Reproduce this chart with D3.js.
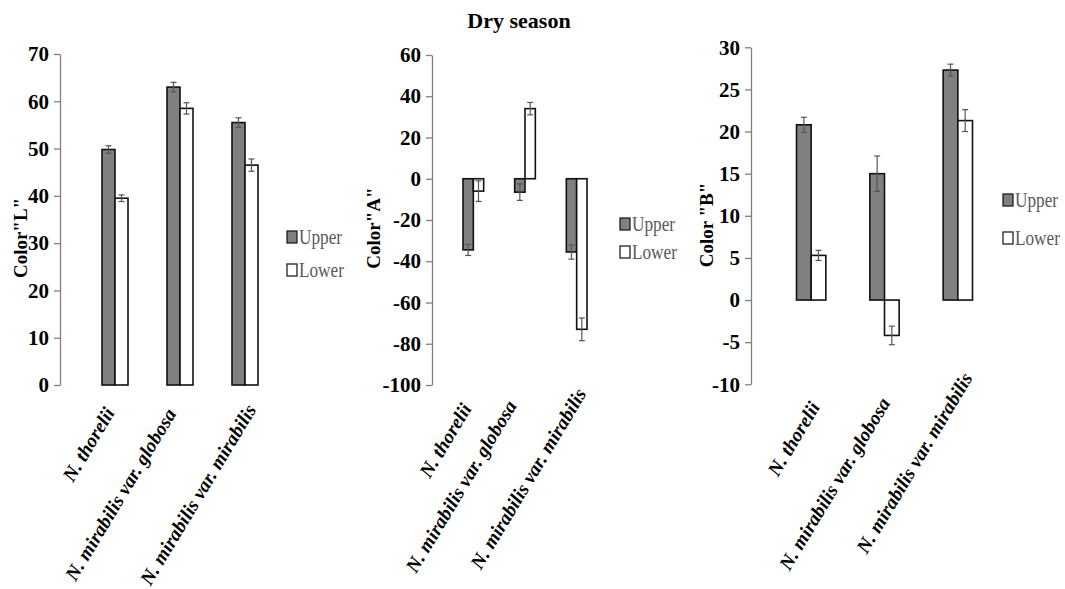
<!DOCTYPE html>
<html>
<head>
<meta charset="utf-8">
<script src="https://cdn.jsdelivr.net/npm/d3@7"></script>
<style>
  body { margin: 0; background: #fff; }
  svg { display: block; }
  svg text { font-family: "Liberation Serif", "Times New Roman", serif; }
</style>
</head>
<body>
<div class="chart"></div>
<script>
// data
const categories = ["N. thorelii", "N. mirabilis var. globosa", "N. mirabilis var. mirabilis"];
const seriesNames = ["Upper", "Lower"];

const lUpper = [49.8, 63.0, 55.5];
const lUpperErr = [0.8, 1.0, 1.0];
const lLower = [39.5, 58.5, 46.5];
const lLowerErr = [0.7, 1.2, 1.3];
const lTicks = [0, 10, 20, 30, 40, 50, 60, 70];

const aUpper = [-34.5, -6.5, -35.5];
const aUpperErr = [2.7, 4.0, 3.5];
const aLower = [-6.0, 34.0, -73.0];
const aLowerErr = [5.0, 3.0, 5.5];
const aTicks = [-100, -80, -60, -40, -20, 0, 20, 40, 60];

const bUpper = [20.8, 15.0, 27.3];
const bUpperErr = [0.9, 2.1, 0.7];
const bLower = [5.3, -4.2, 21.3];
const bLowerErr = [0.6, 1.1, 1.3];
const bTicks = [-10, -5, 0, 5, 10, 15, 20, 25, 30];

const fills = ["#808080", "#ffffff"];
const serif = "Liberation Serif, serif";

const width = 1065, height = 589;

const svg = d3.select(".chart").append("svg")
  .attr("width", width)
  .attr("height", height);

svg.append("text")
  .attr("x", 519)
  .attr("y", 28)
  .attr("text-anchor", "middle")
  .attr("font-family", serif)
  .attr("font-weight", "bold")
  .attr("font-size", 22)
  .text("Dry season");

// catOff: where each rotated category label ends, relative to the group centre / axis bottom
const panels = [
  { label: "Color\"L\"", values: [lUpper, lLower], errs: [lUpperErr, lLowerErr], ticks: lTicks,
    axisX: 60, band: [63, 297], y: [385, 54], labelX: 27, labelY: 238,
    catOff: [[-5.5, 24], [-9, 25], [6, 21]],
    legX: 287, legY: [237, 270] },
  { label: "Color\"A\"", values: [aUpper, aLower], errs: [aUpperErr, aLowerErr], ticks: aTicks,
    axisX: 432, band: [432, 618], y: [385, 55], labelX: 380, labelY: 228,
    catOff: [[-7, 20], [-13.5, 17], [4.5, 5]],
    legX: 620, legY: [224, 252] },
  { label: "Color \"B\"", values: [bUpper, bLower], errs: [bUpperErr, bLowerErr], ticks: bTicks,
    axisX: 751, band: [752.5, 1016.5], y: [384.3, 47.3], labelX: 713, labelY: 225,
    catOff: [[3.5, 19], [0.5, 15], [9.5, -10]],
    legX: 1003, legY: [200, 238] }
];

panels.forEach(p => {
  const g = svg.append("g");

  const xScale = d3.scaleBand()
    .domain(categories)
    .range(p.band)
    .padding(0.6);

  const xSub = d3.scaleBand()
    .domain(seriesNames)
    .range([0, xScale.bandwidth()]);

  const yScale = d3.scaleLinear()
    .domain(d3.extent(p.ticks))
    .range(p.y);

  const yAxis = d3.axisLeft(yScale)
    .tickValues(p.ticks)
    .tickFormat(d => String(d))
    .tickSize(6)
    .tickSizeOuter(0)
    .tickPadding(5);

  g.append("g")
    .attr("transform", `translate(${p.axisX},0)`)
    .call(yAxis)
    .attr("font-family", serif)
    .call(a => a.select(".domain").attr("stroke", "#7f7f7f").attr("stroke-width", 1.3))
    .call(a => a.selectAll(".tick line").attr("stroke", "#7f7f7f").attr("stroke-width", 1.3))
    .call(a => a.selectAll(".tick text")
      .attr("font-family", serif)
      .attr("font-weight", "bold")
      .attr("font-size", 21)
      .attr("fill", "#000"));

  g.append("text")
    .attr("transform", `translate(${p.labelX},${p.labelY}) rotate(-90)`)
    .attr("text-anchor", "middle")
    .attr("font-family", serif)
    .attr("font-weight", "bold")
    .attr("font-size", 19)
    .text(p.label);

  const rows = [];
  seriesNames.forEach((s, si) => {
    categories.forEach((c, ci) => {
      rows.push({ s, si, c, v: p.values[si][ci], e: p.errs[si][ci] });
    });
  });

  g.selectAll("rect.bar")
    .data(rows)
    .enter()
    .append("rect")
    .attr("class", "bar")
    .attr("x", d => xScale(d.c) + xSub(d.s))
    .attr("width", xSub.bandwidth())
    .attr("y", d => Math.min(yScale(d.v), yScale(0)))
    .attr("height", d => Math.abs(yScale(d.v) - yScale(0)))
    .attr("fill", d => fills[d.si])
    .attr("stroke", "#111")
    .attr("stroke-width", 1.6);

  const err = g.selectAll("g.err")
    .data(rows)
    .enter()
    .append("g")
    .attr("class", "err")
    .attr("stroke", "#555")
    .attr("stroke-width", 1.2);

  const cx = d => xScale(d.c) + xSub(d.s) + xSub.bandwidth() / 2;
  err.append("line")
    .attr("x1", cx).attr("x2", cx)
    .attr("y1", d => yScale(d.v - d.e))
    .attr("y2", d => yScale(d.v + d.e));
  [-1, 1].forEach(k => {
    err.append("line")
      .attr("x1", d => cx(d) - 3).attr("x2", d => cx(d) + 3)
      .attr("y1", d => yScale(d.v + k * d.e))
      .attr("y2", d => yScale(d.v + k * d.e));
  });

  // category labels
  g.selectAll("text.cat")
    .data(categories)
    .enter()
    .append("text")
    .attr("class", "cat")
    .attr("transform", (d, i) => `translate(${xScale(d) + xScale.bandwidth() / 2 + p.catOff[i][0]},${p.y[0] + p.catOff[i][1]}) rotate(-59)`)
    .attr("text-anchor", "end")
    .attr("dy", "0.35em")
    .attr("font-family", serif)
    .attr("font-weight", "bold")
    .attr("font-style", "italic")
    .attr("font-size", 19.5)
    .text(d => d);

  // legend
  const leg = g.selectAll("g.leg")
    .data(seriesNames)
    .enter()
    .append("g")
    .attr("class", "leg")
    .attr("transform", (d, i) => `translate(${p.legX},${p.legY[i]})`);
  leg.append("rect")
    .attr("x", 0).attr("y", -6)
    .attr("width", 10).attr("height", 12)
    .attr("fill", (d, i) => fills[i])
    .attr("stroke", "#111")
    .attr("stroke-width", 1.2);
  leg.append("text")
    .attr("transform", "translate(12,7) scale(0.82,1)")
    .attr("font-family", serif)
    .attr("font-size", 21)
    .attr("fill", "#595959")
    .text(d => d);
});
</script>
</body>
</html>
